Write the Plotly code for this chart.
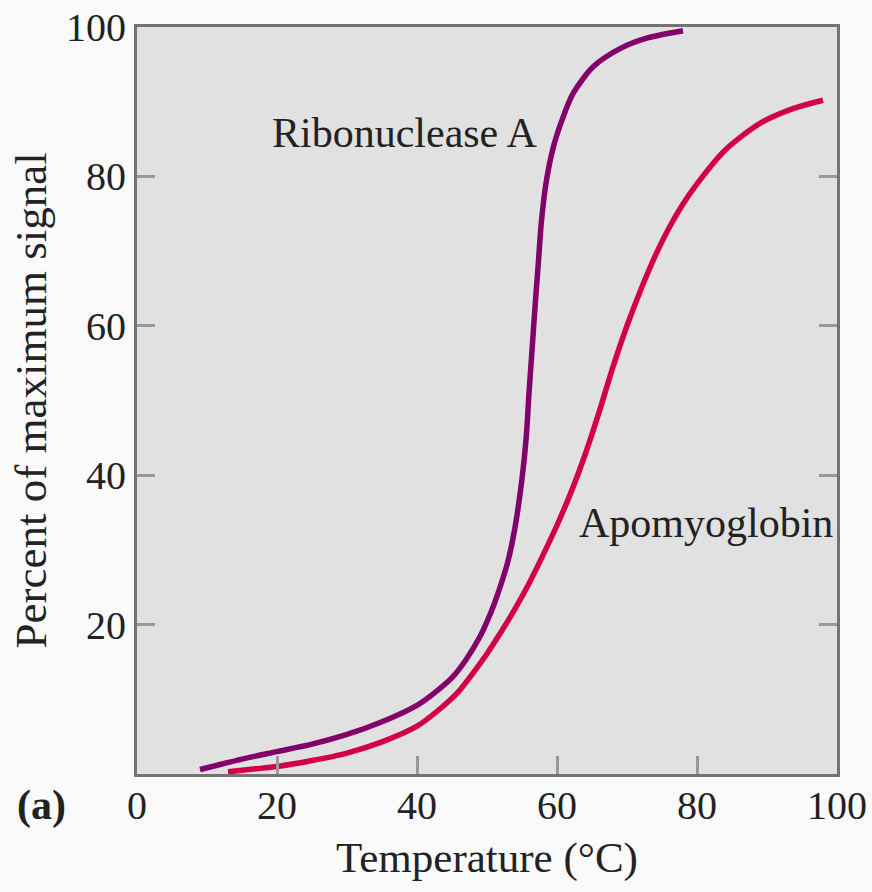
import plotly.graph_objects as go

# Ribonuclease A (purple)
rib_x = [9, 12, 15, 20, 25, 30, 35, 40, 42, 45, 47, 49, 50, 51, 52, 53, 54, 55,
         55.6, 56, 56.4, 56.9, 57.3, 57.8, 58.5, 59.5, 60.7, 62.3, 65.2, 69, 72.8, 78]
rib_y = [0.6, 1.3, 2.0, 3.0, 4.0, 5.3, 7.0, 9.2, 10.5, 12.9, 15.3, 18.4, 20.4, 22.7, 25.4, 28.5, 33, 39.5,
         45, 51, 56.3, 63, 68, 74.2, 79.5, 84, 87.5, 91.1, 94.7, 97.1, 98.5, 99.5]

# Apomyoglobin (red)
apo_x = [13, 17, 20, 25, 30, 35, 40, 43, 46, 48, 50, 52, 54, 56, 58, 60, 62, 64, 66,
         68, 70, 72, 74, 76, 78, 80, 84, 89, 93.8, 98]
apo_y = [0.3, 0.7, 1.0, 1.8, 2.8, 4.3, 6.4, 8.5, 11.1, 13.5, 16.1, 19.0, 22.1, 25.5, 29.3, 33.3, 37.7,
         42.7, 48.4, 54.5, 60.0, 64.9, 69.3, 73.1, 76.3, 79.0, 83.5, 87.1, 89.1, 90.2]

x_ticks = [0, 20, 40, 60, 80, 100]
y_ticks = [20, 40, 60, 80, 100]

labels = [("Ribonuclease A", 19, 85.8), ("Apomyoglobin", 62.9, 33.6)]

FONT = "Liberation Serif"

fig = go.Figure()
fig.add_trace(go.Scatter(x=rib_x, y=rib_y, mode="lines",
                         line=dict(color="#83006b", width=5.5, shape="spline", smoothing=0.8),
                         showlegend=False))
fig.add_trace(go.Scatter(x=apo_x, y=apo_y, mode="lines",
                         line=dict(color="#d30045", width=5.5, shape="spline", smoothing=0.8),
                         showlegend=False))

for text, lx, ly in labels:
    fig.add_annotation(x=lx, y=ly, text=text, showarrow=False, xanchor="left", yanchor="middle",
                       font=dict(family=FONT, size=42, color="#222"))

fig.add_annotation(xref="paper", yref="paper", x=(487 - 137) / 700, y=(774 - 858) / 747,
                   text="Temperature (°C)", showarrow=False, xanchor="center", yanchor="middle",
                   font=dict(family=FONT, size=43, color="#222"))
fig.add_annotation(xref="paper", yref="paper", x=(30 - 137) / 700, y=0.5,
                   text="Percent of maximum signal", showarrow=False, textangle=-90,
                   xanchor="center", yanchor="middle",
                   font=dict(family=FONT, size=45, color="#222"))
fig.add_annotation(xref="paper", yref="paper", x=(41 - 137) / 700, y=(774 - 805) / 747,
                   text="<b>(a)</b>", showarrow=False, xanchor="center", yanchor="middle",
                   font=dict(family=FONT, size=42, color="#222"))

fig.update_xaxes(range=[0, 100], tickvals=x_ticks, ticktext=[str(v) for v in x_ticks],
                 ticks="inside", ticklen=18, tickwidth=3, tickcolor="#999",
                 ticklabelstandoff=-6,
                 showline=True, linecolor="#737373", linewidth=3, mirror=True,
                 showgrid=False, zeroline=False, automargin=False,
                 tickfont=dict(family=FONT, size=40, color="#222"))
fig.update_yaxes(range=[0, 100], tickvals=y_ticks, ticktext=[str(v) for v in y_ticks],
                 ticks="inside", ticklen=18, tickwidth=3, tickcolor="#999",
                 showline=True, linecolor="#737373", linewidth=3, mirror="ticks",
                 showgrid=False, zeroline=False, automargin=False,
                 tickfont=dict(family=FONT, size=40, color="#222"))

fig.update_layout(width=872, height=892,
                  margin=dict(l=137, r=35, t=27, b=118, autoexpand=False),
                  paper_bgcolor="#fafafa", plot_bgcolor="#e1e1e1")

fig.write_html("out.html")
